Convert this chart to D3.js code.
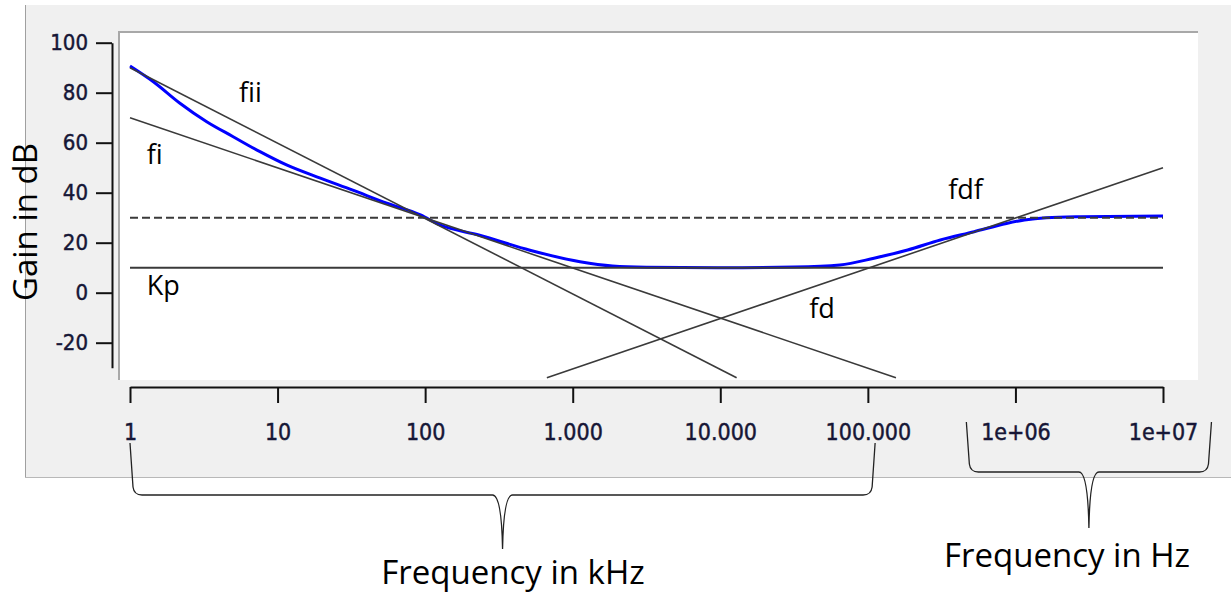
<!DOCTYPE html>
<html>
<head>
<meta charset="utf-8">
<script src="https://cdn.jsdelivr.net/npm/d3@7/dist/d3.min.js"></script>
<style>
  body { margin: 0; background: #fff; }
  .tick text { font-family: "DejaVu Sans Condensed", "DejaVu Sans", sans-serif; fill: #161636; stroke: #161636; stroke-width: 0.45px; }
  .note { font-family: "Open Sans", sans-serif; fill: #000; }
</style>
</head>
<body>
<div id="chart"></div>
<script>
// measured gain curve (x in axis units, gain in dB)
var freq = [1, 1.44, 2.18, 3.31, 5, 7.6, 11.5, 19.5, 32, 55, 93, 126, 234, 513, 1120, 1860,
            3160, 10000, 31600, 64600, 110000, 186000, 310000, 525000, 870000, 1150000,
            1620000, 2750000, 10000000];
var gain = [90.7, 84.4, 75.8, 68.4, 62.4, 56.4, 51.1, 45.8, 41.1, 35.8, 31.1, 27.1, 23, 17, 12.4, 10.7,
            10.2, 10, 10.3, 11.1, 13.8, 17.1, 21.1, 24.4, 27.7, 29.1, 30, 30.4, 30.7];

// asymptotes : start / end points  [freq, dB]
var lineNames = ["fi", "fii", "fd", "Kp"];
var lineFrom = [[1, 70], [1, 90], [668, -34], [1, 10]];
var lineTo = [[155000, -34], [12900, -34], [10000000, 50], [10000000, 10]];
var refLevel = 30; // dashed line

// text labels next to the lines
var labelText = ["fii", "fi", "Kp", "fd", "fdf"];
var labelAt = [[5.48, 76.3], [1.3, 51.5], [1.3, -0.9], [40000, -10.1], [350000, 37.5]];

// axes
var yMajor = [-20, 0, 20, 40, 60, 80, 100];
var yMinor = [-25, -15, -10, -5, 5, 10, 15, 25, 30, 35, 45, 50, 55, 65, 70, 75, 85, 90, 95];
var xMajor = [1, 10, 100, 1000, 10000, 100000, 1000000, 10000000];
var xTickLabels = ["1", "10", "100", "1.000", "10.000", "100.000", "1e+06", "1e+07"];
var xMinorSteps = [2, 4, 6, 8];

// braces under the x axis
var braceKHz = [1, 112000];
var braceHz = [465000, 21300000];

var width = 1231, height = 594;

var svg = d3.select("#chart").append("svg")
    .attr("width", width).attr("height", height);

var x = d3.scaleLog().domain([1, 1e7]).range([130, 1163]);
var y = d3.scaleLinear().domain([-30, 100]).range([367.7, 42.7]);

// grey panel
svg.append("rect").attr("x", 25).attr("y", 5).attr("width", width - 25).attr("height", 472)
    .style("fill", "#f0f0f0");
svg.append("line").attr("x1", 25.5).attr("y1", 5).attr("x2", 25.5).attr("y2", 477)
    .style("stroke", "#a0a0a0").style("stroke-width", 1);
svg.append("line").attr("x1", 25).attr("y1", 477.5).attr("x2", width).attr("y2", 477.5)
    .style("stroke", "#b8b8b8").style("stroke-width", 1);

// white plot area with sunken frame
svg.append("rect").attr("x", 118).attr("y", 31).attr("width", 1080).attr("height", 349)
    .style("fill", "#fff");
svg.append("path").attr("d", "M119,380 L119,32 L1198,32")
    .style("fill", "none").style("stroke", "#a8a8a8").style("stroke-width", 2);

// measured curve
var line = d3.line()
    .x(function (d, i) { return x(freq[i]); })
    .y(function (d) { return y(d); })
    .curve(d3.curveMonotoneX);

svg.append("path").datum(gain).attr("d", line)
    .style("fill", "none").style("stroke", "#0000ff").style("stroke-width", 3);

// asymptotes
svg.selectAll("line.asym").data(lineNames).enter().append("line")
    .attr("class", "asym")
    .attr("x1", function (d, i) { return x(lineFrom[i][0]); })
    .attr("y1", function (d, i) { return y(lineFrom[i][1]); })
    .attr("x2", function (d, i) { return x(lineTo[i][0]); })
    .attr("y2", function (d, i) { return y(lineTo[i][1]); })
    .style("stroke", "#3a3a3a")
    .style("stroke-width", function (d) { return d == "Kp" ? 2 : 1.6; });

svg.append("line")
    .attr("x1", x(1)).attr("x2", x(1e7))
    .attr("y1", y(refLevel)).attr("y2", y(refLevel))
    .style("stroke", "#3a3a3a").style("stroke-width", 2).style("stroke-dasharray", "8,4");

svg.selectAll("text.lbl").data(labelText).enter().append("text")
    .attr("class", "note lbl")
    .attr("x", function (d, i) { return x(labelAt[i][0]); })
    .attr("y", function (d, i) { return y(labelAt[i][1]); })
    .style("font-size", "27px")
    .text(function (d) { return d; });

// y axis (plain hyphen for negatives, like the original)
var gy = svg.append("g").attr("transform", "translate(112,0)");
gy.call(d3.axisLeft(y).tickValues(yMinor).tickSize(10).tickSizeOuter(0).tickFormat(""));
gy.call(d3.axisLeft(y).tickValues(yMajor).tickSize(16).tickSizeOuter(0).tickPadding(8)
    .tickFormat(function (d) { return String(d); }));
gy.selectAll("path, line").style("stroke", "#111").style("stroke-width", 2);
gy.selectAll("text").style("font-size", "22px");

// x axis
var xMinor = [];
xMajor.slice(0, -1).forEach(function (m) {
    xMinorSteps.forEach(function (s) { xMinor.push(m * s); });
});
var gx = svg.append("g").attr("transform", "translate(0,387)");
gx.call(d3.axisBottom(x).tickValues(xMinor).tickSize(8).tickSizeOuter(0).tickFormat(""));
gx.call(d3.axisBottom(x).tickValues(xMajor).tickSize(16).tickSizeOuter(0).tickPadding(21)
    .tickFormat(function (d, i) { return xTickLabels[i]; }));
gx.selectAll("path, line").style("stroke", "#111").style("stroke-width", 2);
gx.selectAll("text").style("font-size", "23px");

// y title
svg.append("text").attr("class", "note")
    .attr("transform", "translate(37,222) rotate(-90)")
    .attr("text-anchor", "middle")
    .style("font-size", "33px")
    .text("Gain in dB");

// curly braces
function brace(x0, x1, yt, yh, yp) {
    var xm = (x0 + x1) / 2;
    return "M" + x0 + "," + yt +
        " L" + (x0 + 3) + "," + (yh - 8) +
        " Q" + (x0 + 4) + "," + yh + " " + (x0 + 12) + "," + yh +
        " L" + (xm - 10) + "," + yh +
        " Q" + (xm - 1) + "," + yh + " " + xm + "," + yp +
        " Q" + (xm + 1) + "," + yh + " " + (xm + 10) + "," + yh +
        " L" + (x1 - 12) + "," + yh +
        " Q" + (x1 - 4) + "," + yh + " " + (x1 - 3) + "," + (yh - 8) +
        " L" + x1 + "," + yt;
}
svg.append("path").attr("d", brace(x(braceKHz[0]), x(braceKHz[1]), 443, 495, 549))
    .style("fill", "none").style("stroke", "#222").style("stroke-width", 1.3);
svg.append("path").attr("d", brace(x(braceHz[0]), x(braceHz[1]), 422, 472, 528))
    .style("fill", "none").style("stroke", "#222").style("stroke-width", 1.3);

svg.append("text").attr("class", "note")
    .attr("x", 513).attr("y", 584).attr("text-anchor", "middle")
    .style("font-size", "33px").text("Frequency in kHz");
svg.append("text").attr("class", "note")
    .attr("x", 1067).attr("y", 567).attr("text-anchor", "middle")
    .style("font-size", "33px").text("Frequency in Hz");
</script>
</body>
</html>
